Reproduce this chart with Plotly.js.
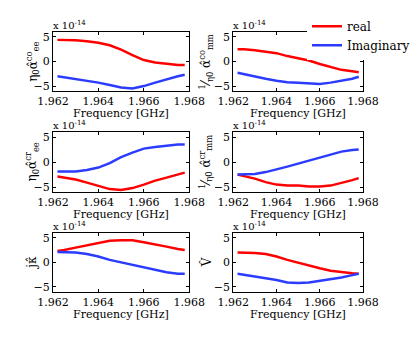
<!DOCTYPE html>
<html>
<head>
<meta charset="utf-8">
<script src="https://cdn.plot.ly/plotly-3.0.1.min.js"></script>
<style>
  html, body { margin: 0; padding: 0; background: #fff; }
  #chart { width: 415px; height: 337px; }
</style>
</head>
<body>
<div id="chart"></div>
<script>
// frequency samples [GHz]
const freq = [1.9622, 1.9625, 1.963, 1.9635, 1.964, 1.9645, 1.965, 1.9655, 1.966, 1.9665, 1.967, 1.9675, 1.9678];

// values in units of 1e-14
const eeCoReal = [4.4, 4.4, 4.3, 4.1, 3.8, 3.3, 2.4, 1.3, 0.3, -0.2, -0.5, -0.7, -0.7];
const eeCoImag = [-3.0, -3.2, -3.5, -3.9, -4.3, -4.8, -5.3, -5.5, -5.0, -4.3, -3.6, -3.0, -2.7];
const mmCoReal = [2.5, 2.5, 2.3, 2.0, 1.7, 1.1, 0.7, 0.2, -0.5, -1.1, -1.7, -2.0, -2.2];
const mmCoImag = [-2.3, -2.6, -3.1, -3.5, -3.9, -4.2, -4.3, -4.5, -4.6, -4.3, -3.9, -3.5, -3.1];
const eeCrReal = [-2.9, -3.1, -3.5, -4.1, -4.7, -5.4, -5.6, -5.2, -4.5, -3.7, -3.1, -2.4, -2.1];
const eeCrImag = [-1.9, -1.9, -1.9, -1.6, -1.1, -0.2, 1.0, 1.9, 2.7, 3.0, 3.3, 3.5, 3.5];
const mmCrReal = [-2.5, -2.8, -3.3, -4.0, -4.5, -4.7, -4.7, -4.9, -4.9, -4.7, -4.2, -3.6, -3.2];
const mmCrImag = [-2.5, -2.5, -2.4, -2.0, -1.5, -0.9, -0.3, 0.3, 1.0, 1.6, 2.1, 2.4, 2.5];
const kapReal = [2.3, 2.5, 3.0, 3.5, 4.0, 4.4, 4.5, 4.5, 4.1, 3.7, 3.2, 2.7, 2.5];
const kapImag = [2.1, 2.1, 2.0, 1.7, 1.2, 0.5, 0.0, -0.5, -1.1, -1.6, -2.0, -2.3, -2.3];
const vReal = [2.0, 2.0, 1.9, 1.7, 1.2, 0.5, -0.1, -0.7, -1.2, -1.7, -2.0, -2.2, -2.3];
const vImag = [-2.3, -2.5, -2.8, -3.2, -3.6, -4.1, -4.2, -4.1, -3.8, -3.5, -3.1, -2.6, -2.3];

const seriesNames = ['real', 'Imaginary'];
const yLabels = [
  'η<sub>0</sub>α̂<sup>co</sup><sub>ee</sub>',
  '<sup>1</sup>⁄<sub>η0</sub> α̂<sup>co</sup><sub>mm</sub>',
  'η<sub>0</sub>α̂<sup>cr</sup><sub>ee</sub>',
  '<sup>1</sup>⁄<sub>η0</sub> α̂<sup>cr</sup><sub>mm</sub>',
  'jκ̂',
  'V̂'
];
const xTitle = 'Frequency [GHz]';
const xTicks = [1.962, 1.964, 1.966, 1.968];
const yTicks = [-5, 0, 5];

const panels = [
  [eeCoReal, eeCoImag], [mmCoReal, mmCoImag],
  [eeCrReal, eeCrImag], [mmCrReal, mmCrImag],
  [kapReal, kapImag], [vReal, vImag]
];

const colors = ['#ff0000', '#2b3cff'];
const serif = 'DejaVu Serif';

// subplot placement (paper fractions)
const xDomains = [[0.130, 0.465], [0.573, 0.892]];
const yDomains = [[0.730, 0.905], [0.430, 0.608], [0.134, 0.309]];
const yLabelX = [33 / 415, 210 / 415];

const traces = [];
const layout = {
  width: 415,
  height: 337,
  margin: { l: 0, r: 0, t: 0, b: 0 },
  paper_bgcolor: '#fff',
  plot_bgcolor: '#fff',
  font: { family: serif, size: 11, color: '#000' },
  showlegend: true,
  legend: {
    x: 0.755, y: 0.965, xanchor: 'left', yanchor: 'top',
    bgcolor: '#fff', borderwidth: 0,
    font: { family: serif, size: 12 },
    itemwidth: 30,
    tracegroupgap: 0
  },
  annotations: []
};

panels.forEach((pair, i) => {
  const n = i === 0 ? '' : String(i + 1);
  const row = Math.floor(i / 2);
  const col = i % 2;

  pair.forEach((vals, k) => {
    traces.push({
      x: freq,
      y: vals,
      xaxis: 'x' + n,
      yaxis: 'y' + n,
      type: 'scatter',
      mode: 'lines',
      name: seriesNames[k],
      showlegend: i === 1,
      line: { color: colors[k], width: 2.5 }
    });
  });

  layout['xaxis' + n] = {
    domain: xDomains[col],
    anchor: 'y' + n,
    range: [1.962, 1.968],
    tickvals: xTicks,
    ticktext: xTicks.map(v => v.toFixed(3)),
    ticks: 'inside', ticklen: 3, tickcolor: '#000',
    showline: true, mirror: 'ticks', linecolor: '#000', linewidth: 1,
    showgrid: false, zeroline: false,
    tickfont: { family: serif, size: 11 }
  };
  layout['yaxis' + n] = {
    domain: yDomains[row],
    anchor: 'x' + n,
    range: [-6, 6],
    tickvals: yTicks,
    ticks: 'inside', ticklen: 3, tickcolor: '#000',
    showline: true, mirror: 'ticks', linecolor: '#000', linewidth: 1,
    showgrid: false, zeroline: false,
    tickfont: { family: serif, size: 11 }
  };

  // x title just under the tick labels
  layout.annotations.push({
    text: xTitle,
    xref: 'paper', yref: 'paper',
    x: (xDomains[col][0] + xDomains[col][1]) / 2, y: yDomains[row][0],
    xanchor: 'center', yanchor: 'top', yshift: -14,
    showarrow: false,
    font: { family: serif, size: 11 }
  });
  // y title
  layout.annotations.push({
    text: yLabels[i],
    xref: 'paper', yref: 'paper',
    x: yLabelX[col], y: (yDomains[row][0] + yDomains[row][1]) / 2,
    xanchor: 'center', yanchor: 'middle', textangle: -90,
    showarrow: false,
    font: { family: serif, size: 12 }
  });
  // exponent
  layout.annotations.push({
    text: 'x 10<sup>-14</sup>',
    xref: 'paper', yref: 'paper',
    x: xDomains[col][0] - 0.005, y: yDomains[row][1],
    xanchor: 'left', yanchor: 'bottom', yshift: -1,
    showarrow: false,
    font: { family: serif, size: 10 }
  });
});

Plotly.newPlot('chart', traces, layout, { displayModeBar: false, staticPlot: true });
</script>
</body>
</html>
